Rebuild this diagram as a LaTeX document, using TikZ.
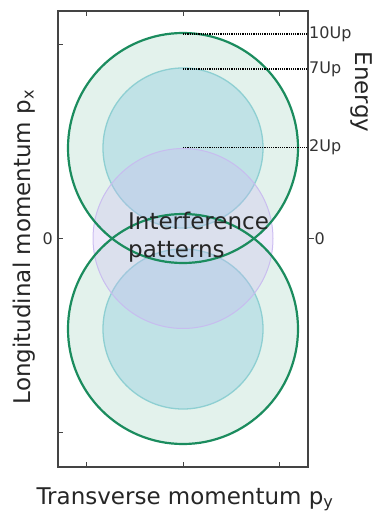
\documentclass[tikz,border=0pt]{standalone}
\usepackage{fontspec}
\setmainfont{DejaVu Sans}
\definecolor{mint}{HTML}{E3F2EC}
\definecolor{gline}{HTML}{1B8C5E}
\definecolor{cyanfill}{HTML}{C0E2E6}
\definecolor{cyanline}{HTML}{8ECFD2}
\definecolor{purfill}{HTML}{C9B8F2}
\definecolor{purline}{HTML}{C8B9F0}
\definecolor{axisgray}{HTML}{444444}
\begin{document}
\begin{tikzpicture}[x=1pt,y=-1pt,
  bigc/.style={fill=mint},
  smallc/.style={fill=cyanfill, draw=cyanline, line width=1.3pt},
  purc/.style={fill=purfill, fill opacity=0.3, draw=purline, draw opacity=0.9, line width=1pt},
  greenc/.style={draw=gline, line width=2.2pt},
  ax/.style={draw=axisgray, line width=1.3pt},
  tk/.style={draw=axisgray, line width=1pt},
  dotl/.style={draw=black, line width=1.4pt, dash pattern=on 1.1pt off 1.1pt},
  ticklab/.style={font=\fontsize{16}{19}\selectfont, text=black!80, inner sep=0pt},
  axlab/.style={font=\fontsize{23}{27}\selectfont, text=black!85, inner sep=0pt},
  inlab/.style={font=\fontsize{23}{29}\selectfont, text=black!85, inner sep=0pt, align=left}]
\useasboundingbox (0,0) rectangle (374,513);
% centers
\coordinate (cu) at (183,148);
\coordinate (cl) at (183,329);
\coordinate (c0) at (183,238.5);
% fills
\fill[bigc] (cu) circle (115);
\fill[bigc] (cl) circle (115);
\path[smallc] (cu) circle (80);
\path[smallc] (cl) circle (80);
\path[purc] (c0) circle (90);
\draw[greenc] (cu) circle (115);
\draw[greenc] (cl) circle (115);
% axes box
\coordinate (bl) at (58,467);
\coordinate (tr) at (308,11);
\draw[ax] (bl) rectangle (tr);
% ticks
\foreach \x in {86,183,279} {
  \draw[tk] (\x,467) -- (\x,462);
  \draw[tk] (\x,11) -- (\x,16);
}
\foreach \y in {45,238.5,432} {
  \draw[tk] (58,\y) -- (63,\y);
}
\draw[tk] (308,238.5) -- (314,238.5);
% dotted energy lines
\coordinate (e10a) at (183,34); \coordinate (e10b) at (307,34);
\coordinate (e7a) at (183,69);  \coordinate (e7b) at (307,69);
\coordinate (e2a) at (183,147.5); \coordinate (e2b) at (307,147.5);
\draw[dotl] (e10a) -- (e10b);
\draw[dotl] (e7a) -- (e7b);
\draw[dotl] (e2a) -- (e2b);
% tick labels
\node[ticklab, anchor=west] (l10) at (309,34) {10Up};
\node[ticklab, anchor=west] (l7) at (309,69) {7Up};
\node[ticklab, anchor=west] (l2) at (309,147.5) {2Up};
\node[ticklab, anchor=west] (l0r) at (314.5,238.5) {0};
\node[ticklab, anchor=east] (l0l) at (53,238.5) {0};
% axis labels
\node[axlab, anchor=base] (xlab) at (185,504) {Transverse momentum p\textsubscript{y}};
\node[axlab, anchor=base, rotate=90] (ylab) at (30,247) {Longitudinal momentum p\textsubscript{x}};
\node[axlab, anchor=base, rotate=-90] (elab) at (355,92) {Energy};
% interference text
\node[inlab, anchor=base west] (int1) at (128,229) {Interference};
\node[inlab, anchor=base west] (int2) at (128,257) {patterns};
\end{tikzpicture}
\end{document}
